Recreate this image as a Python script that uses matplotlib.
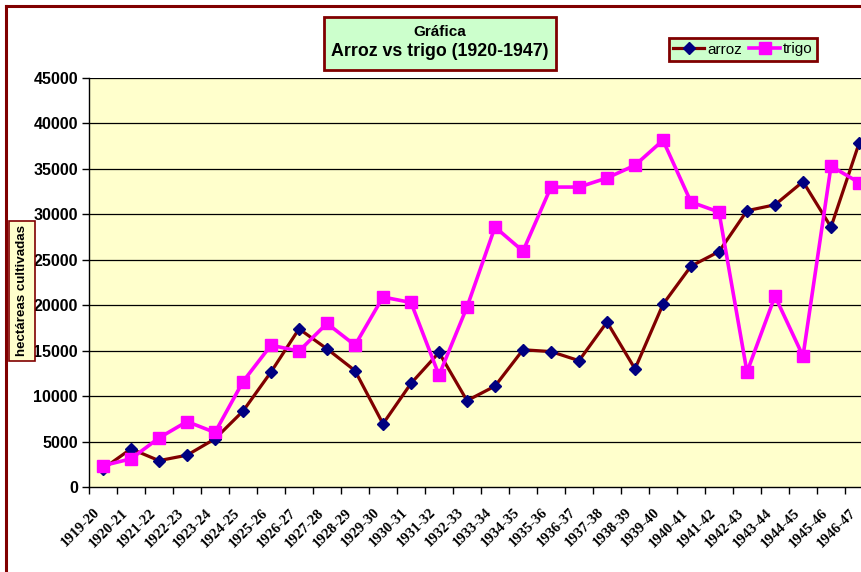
import matplotlib
matplotlib.use("Agg")
import matplotlib.pyplot as plt
from matplotlib.patches import Rectangle
from matplotlib.lines import Line2D
from matplotlib.transforms import ScaledTranslation

# campañas agrícolas
campanas = ["1919-20", "1920-21", "1921-22", "1922-23", "1923-24", "1924-25",
            "1925-26", "1926-27", "1927-28", "1928-29", "1929-30", "1930-31",
            "1931-32", "1932-33", "1933-34", "1934-35", "1935-36", "1936-37",
            "1937-38", "1938-39", "1939-40", "1940-41", "1941-42", "1942-43",
            "1943-44", "1944-45", "1945-46", "1946-47"]

# hectáreas cultivadas
arroz = [2000, 4200, 2900, 3500, 5300, 8350, 12650, 17400, 15200, 12800,
         6950, 11400, 14800, 9500, 11100, 15100, 14900, 13900, 18150, 13000,
         20100, 24300, 25900, 30400, 31050, 33600, 28600, 37800]
trigo = [2350, 3100, 5400, 7200, 6000, 11600, 15600, 14950, 18000, 15600,
         20900, 20300, 12300, 19800, 28600, 25950, 33000, 33000, 34000, 35400,
         38150, 31350, 30250, 12650, 21000, 14400, 35300, 33500]

y_ticks = list(range(0, 45001, 5000))

ROJO = "#800000"
W, H = 861, 572

fig = plt.figure(figsize=(W / 100, H / 100), dpi=100)
fig.patch.set_facecolor("white")

# plot area (right edge falls outside the picture, like the original)
ax = fig.add_axes([89 / W, 1 - 487 / H, 784 / W, 409 / H])
ax.set_facecolor("#FFFFCC")

x = list(range(len(campanas)))
ax.plot(x, arroz, color=ROJO, lw=2.3, marker="D", ms=6.2,
        mfc="#000080", mec="#000080", label="arroz", zorder=3, clip_on=False)
ax.plot(x, trigo, color="#FF00FF", lw=2.6, marker="s", ms=9,
        mfc="#FF00FF", mec="#FF00FF", label="trigo", zorder=4, clip_on=False)

ax.set_xlim(-0.5, len(campanas) - 0.5)
ax.set_ylim(0, 45000)
ax.set_yticks(y_ticks)
ax.set_yticklabels([str(v) for v in y_ticks], fontsize=11.5,
                   fontweight="bold", family="Liberation Sans")
for v in y_ticks[1:]:
    ax.axhline(v, color="black", lw=0.9, zorder=1)

# ticks at category boundaries, labels at centers
ax.set_xticks([i - 0.5 for i in range(len(campanas) + 1)])
ax.set_xticklabels([])
ax.set_xticks(x, minor=True)
ax.set_xticklabels(campanas, minor=True, rotation=45, ha="right", va="center",
                   rotation_mode="anchor", fontsize=10.5, fontweight="bold",
                   family="Liberation Serif")
ax.tick_params(axis="x", which="minor", length=0, pad=17)
ax.tick_params(axis="x", which="major", length=5, width=1, color="black",
               direction="out")
ax.tick_params(axis="y", length=5, width=1, direction="out", pad=3)
shift = ScaledTranslation(-5 / 100, 0, fig.dpi_scale_trans)
for lab in ax.get_xticklabels(minor=True):
    lab.set_transform(lab.get_transform() + shift)

for s in ["top", "right"]:
    ax.spines[s].set_visible(False)
ax.spines["left"].set_linewidth(1)
ax.spines["bottom"].set_linewidth(1)

# chart border (left and top only visible)
fig.add_artist(Line2D([6 / W, 6 / W], [0, 1 - 5.5 / H], color=ROJO, lw=2.2,
                      transform=fig.transFigure))
fig.add_artist(Line2D([6 / W, 1], [1 - 5.5 / H, 1 - 5.5 / H], color=ROJO,
                      lw=2.2, transform=fig.transFigure))

# title box
fig.add_artist(Rectangle((324 / W, 1 - 70 / H), 232 / W, 53 / H,
                         transform=fig.transFigure, facecolor="#CCFFCC",
                         edgecolor=ROJO, lw=2))
fig.text(440 / W, 1 - 32 / H, "Gráfica", ha="center", va="center",
         fontsize=11, fontweight="bold", family="Liberation Sans")
fig.text(440 / W, 1 - 51 / H, "Arroz vs trigo (1920-1947)", ha="center",
         va="center", fontsize=12.8, fontweight="bold",
         family="Liberation Sans")

# y label box
fig.add_artist(Rectangle((9 / W, 1 - 361 / H), 26 / W, 140 / H,
                         transform=fig.transFigure, facecolor="#FFFFCC",
                         edgecolor=ROJO, lw=1.2))
fig.text(22 / W, 1 - 291 / H, "hectáreas cultivadas", rotation=90,
         ha="center", va="center", fontsize=9.6, fontweight="bold",
         family="Liberation Sans")

# legend
leg = fig.legend(loc="center", bbox_to_anchor=(743 / W, 1 - 49.5 / H),
                 ncol=2, frameon=True, fancybox=False,
                 handlelength=2.0, handletextpad=0.2, columnspacing=0.5,
                 borderpad=0.3, prop={"family": "Liberation Sans",
                                      "size": 11})
leg.get_frame().set_facecolor("#CCFFCC")
leg.get_frame().set_edgecolor(ROJO)
leg.get_frame().set_linewidth(2)
leg.get_frame().set_alpha(1)

fig.savefig("out.png", dpi=100)
